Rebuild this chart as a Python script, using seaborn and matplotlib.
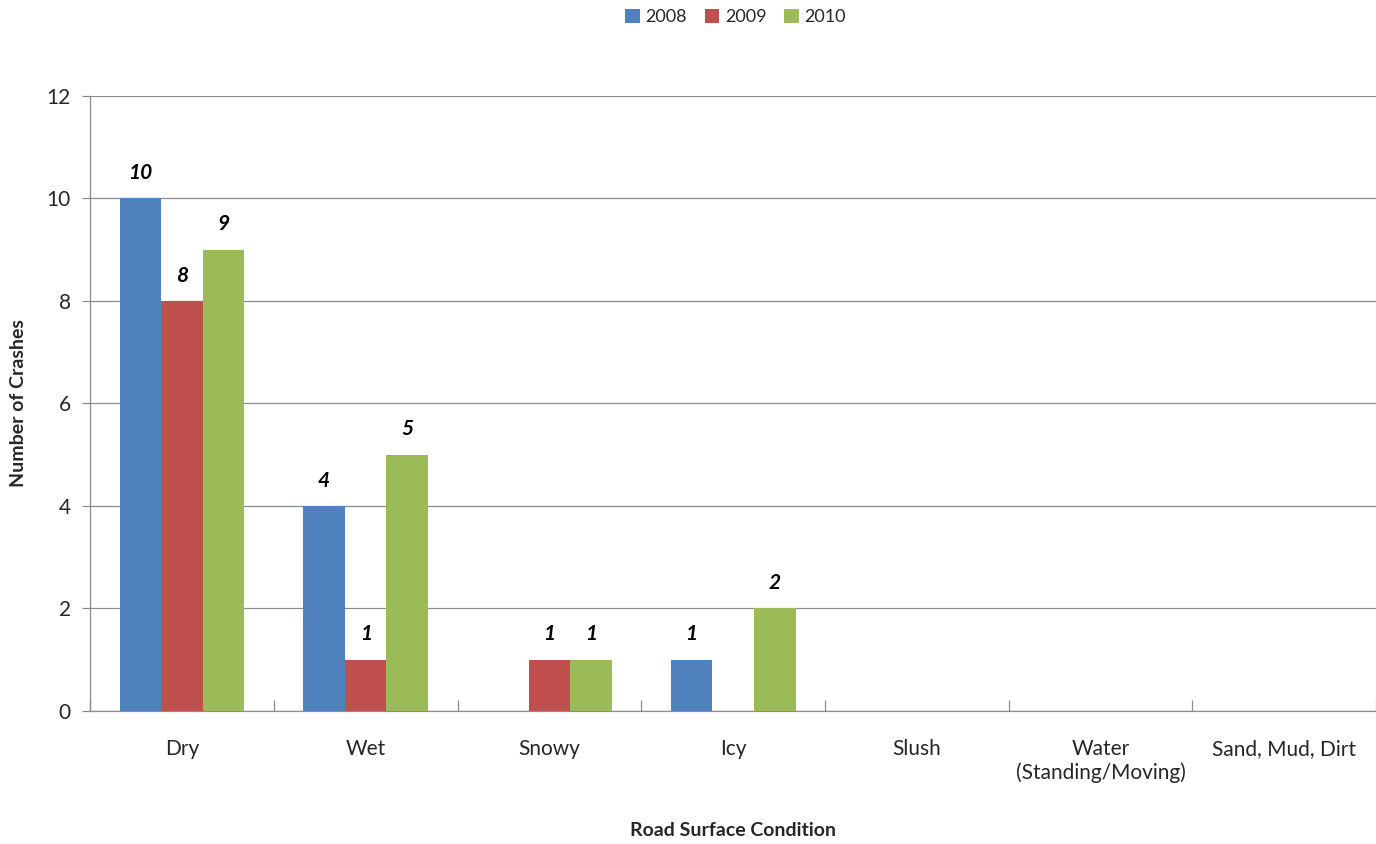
import matplotlib
matplotlib.use("Agg")
import matplotlib.pyplot as plt
import seaborn as sns
import pandas as pd
import numpy as np
from matplotlib.ticker import FixedLocator

categories = ["Dry", "Wet", "Snowy", "Icy", "Slush", "Water\n(Standing/Moving)", "Sand, Mud, Dirt"]
years = ["2008", "2009", "2010"]
v2008 = [10, 4, 0, 1, 0, 0, 0]
v2009 = [8, 1, 1, 0, 0, 0, 0]
v2010 = [9, 5, 1, 2, 0, 0, 0]
colors = ["#4F81BD", "#C0504D", "#9BBB59"]

rows = []
for y, vals in zip(years, [v2008, v2009, v2010]):
    for c, v in zip(categories, vals):
        rows.append({"Condition": c, "Year": y, "Crashes": v})
df = pd.DataFrame(rows)

sns.set_theme(style="white")
plt.rcParams['font.family'] = ['Lato', 'DejaVu Sans']

fig = plt.figure(figsize=(13.76, 8.44), dpi=100)
ax = fig.add_axes([0.0655, 0.1576, 0.9345, 0.7287])

sns.barplot(data=df, x="Condition", y="Crashes", hue="Year", order=categories,
            hue_order=years, palette=colors, width=0.68, saturation=1,
            ax=ax, zorder=3, linewidth=0, edgecolor="none")

for cont in ax.containers:
    labels = [f"{int(b.get_height())}" if b.get_height() > 0 else "" for b in cont]
    ax.bar_label(cont, labels=labels, padding=11, fontsize=15,
                 fontweight="bold", fontstyle="italic", color="black")

ax.set_xlim(-0.5, 6.5)
ax.set_ylim(0, 12)
ax.set_yticks(range(0, 13, 2))
ax.yaxis.grid(True, color="#8C8C8C", linewidth=0.9, zorder=0)
ax.set_axisbelow(True)

for s in ["top", "right"]:
    ax.spines[s].set_visible(False)
for s in ["left", "bottom"]:
    ax.spines[s].set_color("#8C8C8C")
    ax.spines[s].set_linewidth(0.9)

ax.tick_params(axis="y", which="major", direction="out", length=6, color="#8C8C8C",
               width=0.9, labelsize=15, pad=8, left=True)
ax.tick_params(axis="x", which="major", length=0, labelsize=15, pad=20)
ax.xaxis.set_minor_locator(FixedLocator(np.arange(-0.5, 7.0, 1.0)))
ax.tick_params(axis="x", which="minor", direction="in", length=8, color="#8C8C8C",
               width=0.9, bottom=True)

ax.set_xlabel("Road Surface Condition", fontsize=14, fontweight="bold", labelpad=28)
ax.set_ylabel("Number of Crashes", fontsize=14, fontweight="bold", labelpad=14)

leg = ax.legend(loc="center", bbox_to_anchor=(0.502, 1.128), ncol=3, frameon=False,
                fontsize=13, handlelength=0.8, handleheight=0.8, handletextpad=0.3,
                columnspacing=1.0, title=None)

fig.savefig("out.png", dpi=100)
